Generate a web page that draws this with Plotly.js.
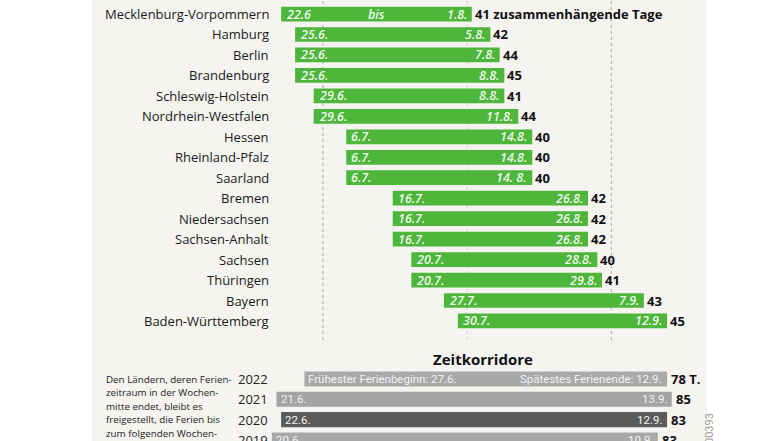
<!DOCTYPE html>
<html>
<head>
<meta charset="utf-8">
<script src="https://cdn.plot.ly/plotly-3.0.1.min.js"></script>
<style>html,body{margin:0;padding:0;background:#fff;}#chart{width:784px;height:441px;}</style>
</head>
<body>
<div id="chart"></div>
<script>
// ---- Data: Sommerferien 2022 ----
const states = ["Mecklenburg-Vorpommern","Hamburg","Berlin","Brandenburg","Schleswig-Holstein","Nordrhein-Westfalen","Hessen","Rheinland-Pfalz","Saarland","Bremen","Niedersachsen","Sachsen-Anhalt","Sachsen","Thüringen","Bayern","Baden-Württemberg"];
const starts = ["22.6.","25.6.","25.6.","25.6.","29.6.","29.6.","6.7.","6.7.","6.7.","16.7.","16.7.","16.7.","20.7.","20.7.","27.7.","30.7."];
const ends   = ["1.8.","5.8.","7.8.","8.8.","8.8.","11.8.","14.8.","14.8.","14.8.","26.8.","26.8.","26.8.","28.8.","29.8.","7.9.","12.9."];
const startLabels = ["22.6","25.6.","25.6.","25.6.","29.6.","29.6.","6.7.","6.7.","6.7.","16.7.","16.7.","16.7.","20.7.","20.7.","27.7.","30.7."];
const endLabels   = ["1.8.","5.8.","7.8.","8.8.","8.8.","11.8.","14.8.","14.8.","14. 8.","26.8.","26.8.","26.8.","28.8.","29.8.","7.9.","12.9."];
const dayCounts = ["41 zusammenhängende Tage","42","44","45","41","44","40","40","40","42","42","42","40","41","43","45"];

// ---- Zeitkorridore ----
const years = ["2022","2021","2020","2019"];
const corrStarts = ["27.6.","21.6.","22.6.","20.6."];
const corrEnds   = ["12.9.","13.9.","12.9.","10.9."];
const corrStartLabels = ["Frühester Ferienbeginn: 27.6.","21.6.","22.6.","20.6."];
const corrEndLabels   = ["Spätestes Ferienende: 12.9.","13.9.","12.9.","10.9."];
const corrCounts = ["78 T.","85","83","83"];
const corrColors = ["#a9a9a9","#a4a4a4","#5b5b5b","#a9a9a9"];

const monthLines = ["1.7.","1.8.","1.9."];
const noteLines = ["Den Ländern, deren Ferien-","zeitraum in der Wochen-","mitte endet, bleibt es","freigestellt, die Ferien bis","zum folgenden Wochen-"];

// ---- helpers ----
const cum = [0,31,59,90,120,151,181,212,243,273,304,334];
function doy(s){ const p = s.replace(/\s/g,"").split("."); return cum[parseInt(p[1])-1] + parseInt(p[0]); }

const sDay = starts.map(doy), eDay = ends.map(doy);
const cS = corrStarts.map(doy), cE = corrEnds.map(doy);

const W = 784, H = 441;
const FONT = "Open Sans, Noto Sans, sans-serif";
const NARROW = "Liberation Sans Narrow, Arial Narrow, Roboto, sans-serif";

const traces = [
  {type:"bar", orientation:"h", y:states, base:sDay, x:sDay.map((s,i)=>eDay[i]-s+1),
   width:0.72, marker:{color:"#4db63b", line:{width:0}}, xaxis:"x", yaxis:"y", hoverinfo:"skip"},
  {type:"bar", orientation:"h", y:years, base:cS, x:cS.map((s,i)=>cE[i]-s+1),
   width:0.74, marker:{color:corrColors, line:{width:0}}, xaxis:"x", yaxis:"y2", hoverinfo:"skip"}
];

const ann = [];
const dateFont = {family:FONT, size:12.5, color:"rgba(255,255,255,0.93)", style:"italic", weight:600};
states.forEach((st,i)=>{
  ann.push({xref:"paper", x:271/W, yref:"y", y:i, text:st, showarrow:false, xanchor:"right",
    font:{family:FONT, size:13, color:"#1a1a1a"}});
  ann.push({xref:"x", x:sDay[i], yref:"y", y:i, text:startLabels[i], showarrow:false, xanchor:"left", xshift:3, font:dateFont});
  ann.push({xref:"x", x:eDay[i]+1, yref:"y", y:i, text:endLabels[i], showarrow:false, xanchor:"right", xshift:-3, font:dateFont});
  ann.push({xref:"x", x:eDay[i]+1, yref:"y", y:i, text:dayCounts[i], showarrow:false, xanchor:"left", xshift:1,
    font:{family:FONT, size:13, color:"#111", weight:700}});
});
// "bis" in the first bar
ann.push({xref:"x", x:(sDay[0]+eDay[0]+1)/2, yref:"y", y:0, text:"bis", showarrow:false, font:dateFont});

const corrFont = {family:NARROW, size:11.5, color:"#f2f2f2"};
years.forEach((yr,i)=>{
  ann.push({xref:"paper", x:270/W, yref:"y2", y:i, text:yr, showarrow:false, xanchor:"right",
    font:{family:FONT, size:13, color:"#222"}});
  ann.push({xref:"x", x:cS[i], yref:"y2", y:i, text:corrStartLabels[i], showarrow:false, xanchor:"left", xshift:2, font:corrFont});
  ann.push({xref:"x", x:cE[i]+1, yref:"y2", y:i, text:corrEndLabels[i], showarrow:false, xanchor:"right", xshift:-3, font:corrFont});
  ann.push({xref:"x", x:cE[i]+1, yref:"y2", y:i, text:corrCounts[i], showarrow:false, xanchor:"left", xshift:2,
    font:{family:FONT, size:13, color:"#111", weight:700}});
});
ann.push({xref:"paper", x:483/W, yref:"paper", y:1-359/H, xanchor:"center", yanchor:"middle", text:"Zeitkorridore", showarrow:false,
  font:{family:FONT, size:15, color:"#111", weight:700}});
noteLines.forEach((ln,i)=>{
  ann.push({xref:"paper", x:104/W, yref:"paper", y:1-(379+13.5*i)/H, xanchor:"left", yanchor:"middle", align:"left",
    text:ln, showarrow:false, font:{family:FONT, size:9.8, color:"#222"}});
});
ann.push({xref:"paper", x:709/W, yref:"paper", y:1-429/H, xanchor:"center", yanchor:"middle", text:"00393", textangle:-90, showarrow:false,
  font:{family:NARROW, size:11, color:"#9a9a9a"}});

const shapes = [
  {type:"rect", xref:"paper", yref:"paper", x0:92/W, x1:707/W, y0:0, y1:1, fillcolor:"#f5f4f1", line:{width:0}, layer:"below"}
];
monthLines.forEach((m,i)=>{
  shapes.push({type:"line", xref:"x", yref:"paper", x0:doy(m), x1:doy(m), y0:1-340/H, y1:1,
    line:{color: i===1 ? "#cfcfcf" : "#a8a8a8", width:1, dash:"dot"}, layer:"below"});
});

// x range: day 182 (1.7.) at px 323, 4.65 px per day
const pxPerDay = 4.65;
const xr = [182 - 323/pxPerDay, 182 + (W-323)/pxPerDay];

const layout = {
  width:W, height:H, margin:{l:0,r:0,t:0,b:0},
  paper_bgcolor:"#ffffff", plot_bgcolor:"rgba(0,0,0,0)",
  showlegend:false,
  xaxis:{range:xr, domain:[0,1], visible:false, fixedrange:true},
  yaxis:{domain:[1-331.2/H, 1-3.8/H], range:[15.5,-0.5], type:"category", visible:false, categoryorder:"array", categoryarray:states},
  yaxis2:{domain:[0, 1-368.8/H], range:[3.05,-0.5], type:"category", visible:false, anchor:"x", categoryorder:"array", categoryarray:years},
  annotations:ann, shapes:shapes
};
Plotly.newPlot("chart", traces, layout, {staticPlot:true, displayModeBar:false});
</script>
</body>
</html>
